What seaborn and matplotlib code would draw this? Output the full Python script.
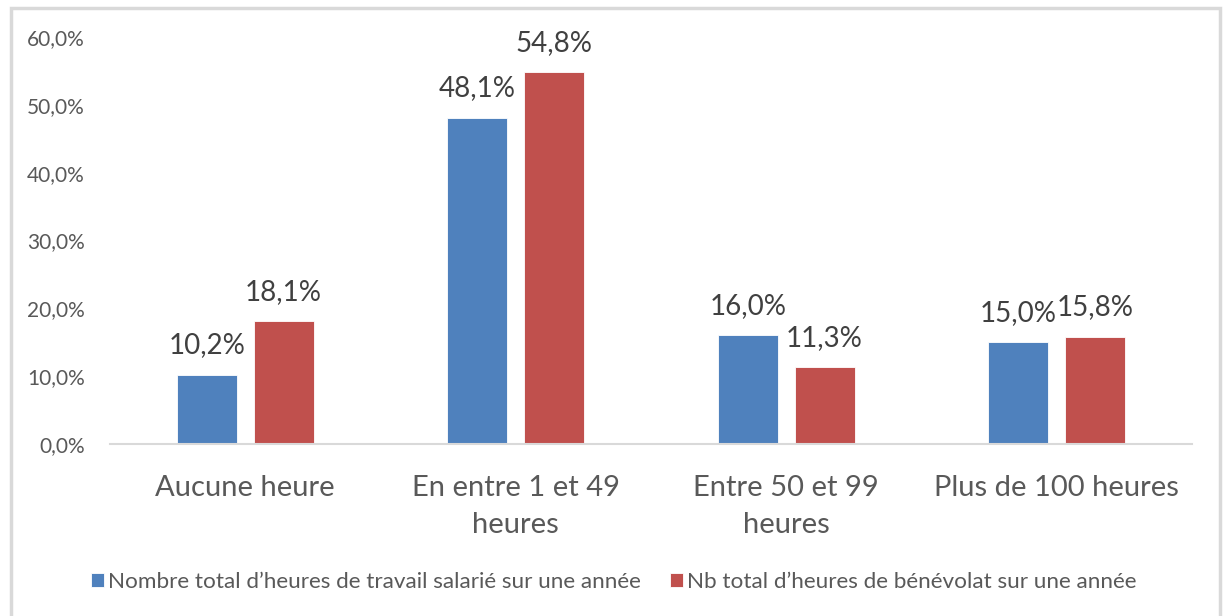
import matplotlib
matplotlib.use("Agg")
import matplotlib.pyplot as plt
import seaborn as sns
import pandas as pd
from matplotlib.patches import Rectangle

categories = ["Aucune heure", "En entre 1 et 49\nheures", "Entre 50 et 99\nheures", "Plus de 100 heures"]
series_names = ["Nombre total d\u2019heures de travail salarié sur une année",
                "Nb total d\u2019heures de bénévolat sur une année"]
salarie = [10.2, 48.1, 16.0, 15.0]
benevolat = [18.1, 54.8, 11.3, 15.8]
yticks = [0, 10, 20, 30, 40, 50, 60]
colors = ["#4F81BD", "#C0504D"]

df = pd.DataFrame({
    "cat": categories * 2,
    "serie": [series_names[0]] * 4 + [series_names[1]] * 4,
    "val": salarie + benevolat,
})

sns.set_theme(style="white")
plt.rcParams["font.family"] = ["Lato", "DejaVu Sans"]
txt = "#595959"

fig = plt.figure(figsize=(12.27, 6.16), dpi=100)
ax = fig.add_axes([110/1227, 1-444/616, (1192-110)/1227, (444-37)/616])

sns.barplot(data=df, x="cat", y="val", hue="serie", palette=colors, ax=ax,
            width=0.567, gap=0.216, saturation=1, edgecolor="white", linewidth=0.6)

for cont in ax.containers:
    ax.bar_label(cont, labels=[f"{v:.1f}%".replace(".", ",") for v in cont.datavalues],
                 padding=12, fontsize=20, color="#404040")

ax.set_ylim(0, 60)
ax.set_xlim(-0.5, 3.5)
ax.set_yticks(yticks)
ax.set_yticklabels([f"{v:.1f}%".replace(".", ",") for v in yticks], fontsize=15, color=txt)
ax.tick_params(axis="y", length=0, pad=18)
ax.tick_params(axis="x", length=0, pad=22, labelsize=21, labelcolor=txt)
for t in ax.get_xticklabels():
    t.set_linespacing(1.55)
ax.set_xlabel("")
ax.set_ylabel("")
for s in ["top", "right", "left"]:
    ax.spines[s].set_visible(False)
ax.spines["bottom"].set_color("#D9D9D9")
ax.spines["bottom"].set_linewidth(1.5)

leg = ax.legend(loc="center", bbox_to_anchor=(0.5, 1-582/616), bbox_transform=fig.transFigure,
                ncol=2, frameon=False, fontsize=16.2, handlelength=0.6, handleheight=0.6,
                handletextpad=0.15, columnspacing=1.3, borderaxespad=0)
for t in leg.get_texts():
    t.set_color(txt)

fig.patches.append(Rectangle((11/1227, -0.01), (1220-11)/1227, 1-8/616+0.01,
                             transform=fig.transFigure, fill=False,
                             edgecolor="#D9D9D9", linewidth=2.5))

fig.savefig("out.png", dpi=100)
